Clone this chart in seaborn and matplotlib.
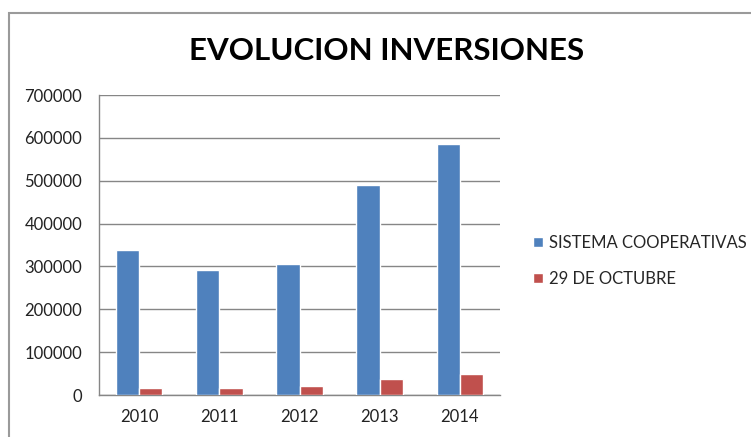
import seaborn as sns
import pandas as pd
import matplotlib.pyplot as plt
from matplotlib.patches import Rectangle

years = ['2010', '2011', '2012', '2013', '2014']
sistema_cooperativas = [338000, 291000, 305000, 491000, 585000]
octubre_29 = [17000, 17000, 21000, 37000, 49000]
series_names = ['SISTEMA COOPERATIVAS', '29 DE OCTUBRE']
colors = ['#4F81BD', '#C0504D']

rows = []
for i, year in enumerate(years):
    rows.append({'Year': year, 'Serie': series_names[0], 'Value': sistema_cooperativas[i]})
    rows.append({'Year': year, 'Serie': series_names[1], 'Value': octubre_29[i]})
df = pd.DataFrame(rows)

sns.set_style('white')
plt.rcParams['font.family'] = ['Lato', 'DejaVu Sans']

fig = plt.figure(figsize=(7.51, 4.37), dpi=100)
ax = fig.add_axes([99 / 751, 1 - 395 / 437, 401 / 751, 300 / 437])

sns.barplot(x='Year', y='Value', hue='Serie', data=df, palette=colors,
            width=0.58, gap=0, saturation=1, ax=ax, zorder=3)

ax.set_ylim(0, 700000)
ax.set_xlim(-0.5, 4.5)
ax.set_yticks(range(0, 700001, 100000))
ax.yaxis.grid(True, color='#868686', linewidth=1, zorder=0)
ax.set_axisbelow(True)
ax.set_xlabel('')
ax.set_ylabel('')
ax.tick_params(axis='both', length=0, labelsize=12, colors='#222222')
ax.tick_params(axis='y', pad=12)
ax.tick_params(axis='x', pad=10)
for s in ['top', 'right']:
    ax.spines[s].set_visible(False)
for s in ['left', 'bottom']:
    ax.spines[s].set_color('#868686')
    ax.spines[s].set_linewidth(1)

ax.legend(title=None, frameon=False, loc='upper left', bbox_to_anchor=(526 / 751, 1 - 228 / 437),
          bbox_transform=fig.transFigure, fontsize=12, handlelength=0.6, handleheight=0.6,
          handletextpad=0.4, labelspacing=1.2, borderaxespad=0)

fig.text(387 / 751, 1 - 51 / 437, 'EVOLUCION INVERSIONES', ha='center', va='center',
         fontsize=22.5, fontweight='bold', color='black')

fig.patches.append(Rectangle((9 / 751, -0.1), 1.2, 1 - 13 / 437 + 0.1, transform=fig.transFigure,
                             fill=False, edgecolor='#9A9A9A', linewidth=1.5))

plt.savefig('out.png', dpi=100)
